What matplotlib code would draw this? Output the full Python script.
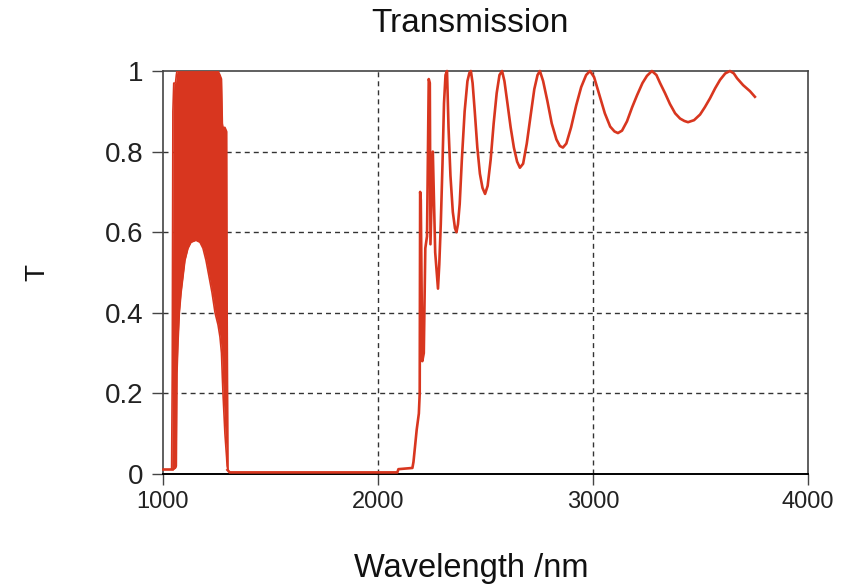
import numpy as np
import matplotlib
matplotlib.use("Agg")
import matplotlib.pyplot as plt

plt.rcParams['font.family'] = ['Liberation Sans', 'DejaVu Sans']

red = '#d8361f'

# flat floor before the first pass band
lead_wl = [1000, 1042]
lead_t  = [0.012, 0.012]

# dense fringe band (1040-1302 nm): upper and lower envelopes
band_wl = [1040, 1043, 1046, 1050, 1058, 1062, 1065, 1070, 1076, 1084,
           1093, 1102, 1116, 1130, 1153, 1172, 1186, 1200, 1214, 1228,
           1242, 1256, 1265, 1272, 1276, 1279, 1288, 1296, 1298, 1302]
band_hi = [0.012, 0.25, 0.90, 0.97, 0.97, 0.99, 1.0, 1.0, 1.0, 1.0,
           1.0, 1.0, 1.0, 1.0, 1.0, 1.0, 1.0, 1.0, 1.0, 1.0,
           1.0, 1.0, 0.99, 0.98, 0.87, 0.86, 0.86, 0.85, 0.44, 0.01]
band_lo = [0.012, 0.012, 0.012, 0.012, 0.015, 0.02, 0.25, 0.33, 0.40, 0.45,
           0.49, 0.53, 0.56, 0.575, 0.58, 0.575, 0.56, 0.53, 0.49, 0.45,
           0.40, 0.37, 0.34, 0.30, 0.24, 0.20, 0.10, 0.04, 0.02, 0.01]

# blocking region and second pass band with its fringes
trace_wl = [1300, 1310, 2090, 2095, 2160, 2165, 2172, 2180, 2190, 2194,
            2196, 2199, 2206, 2213, 2220, 2228, 2236, 2241, 2244, 2255,
            2266, 2279, 2285, 2292, 2300, 2307, 2314, 2321, 2328, 2337,
            2348, 2358, 2365, 2372, 2380, 2390, 2403, 2416, 2425, 2432,
            2440, 2450, 2462, 2474, 2486, 2498, 2510, 2524, 2538, 2552,
            2565, 2577, 2588, 2602, 2617, 2632, 2647, 2660, 2675, 2692,
            2710, 2727, 2742, 2753, 2768, 2788, 2808, 2830, 2846, 2860,
            2876, 2898, 2922, 2945, 2968, 2986, 3005, 3030, 3055, 3080,
            3100, 3116, 3135, 3158, 3182, 3205, 3230, 3251, 3274, 3295,
            3312, 3335, 3358, 3382, 3405, 3425, 3442, 3470, 3498, 3520,
            3544, 3568, 3591, 3615, 3637, 3655, 3670, 3698, 3730, 3753]
trace_t  = [0.01, 0.004, 0.004, 0.012, 0.015, 0.03, 0.067, 0.11, 0.15, 0.20,
            0.70, 0.68, 0.28, 0.30, 0.56, 0.59, 0.98, 0.97, 0.57, 0.80,
            0.55, 0.46, 0.52, 0.62, 0.77, 0.92, 0.99, 1.0, 0.86, 0.74,
            0.65, 0.61, 0.60, 0.62, 0.67, 0.78, 0.90, 0.975, 0.995, 1.0,
            0.97, 0.90, 0.81, 0.745, 0.71, 0.695, 0.715, 0.78, 0.87, 0.945,
            0.99, 1.0, 0.975, 0.92, 0.86, 0.81, 0.775, 0.76, 0.77, 0.82,
            0.89, 0.955, 0.99, 1.0, 0.975, 0.925, 0.87, 0.83, 0.814, 0.81,
            0.82, 0.86, 0.915, 0.96, 0.99, 1.0, 0.985, 0.94, 0.895, 0.862,
            0.85, 0.846, 0.852, 0.875, 0.91, 0.94, 0.97, 0.988, 1.0, 0.99,
            0.97, 0.945, 0.918, 0.895, 0.882, 0.876, 0.873, 0.878, 0.892, 0.91,
            0.932, 0.957, 0.978, 0.994, 1.0, 0.994, 0.982, 0.965, 0.95, 0.936]

xticks = [1000, 2000, 3000, 4000]
yticks = [0, 0.2, 0.4, 0.6, 0.8, 1]
yticklabels = ['0', '0.2', '0.4', '0.6', '0.8', '1']

fig = plt.figure(figsize=(8.45, 5.88), dpi=100)
ax = fig.add_axes([163/845, 1 - 474/588, 645/845, 403/588])

ax.fill_between(band_wl, band_lo, band_hi, color=red, lw=0, zorder=3)
ax.plot(band_wl, band_hi, color=red, lw=1.2, zorder=3)
ax.plot(band_wl, band_lo, color=red, lw=1.2, zorder=3)
ax.plot(lead_wl, lead_t, color=red, lw=1.9, zorder=3, clip_on=False)
ax.plot(trace_wl, trace_t, color=red, lw=1.9, zorder=3, clip_on=False,
        solid_joinstyle='round')

ax.set_xlim(1000, 4000)
ax.set_ylim(0, 1)
ax.set_xticks(xticks)
ax.set_yticks(yticks)
ax.set_yticklabels(yticklabels)

# dashed interior grid
for x in xticks[1:-1]:
    ax.axvline(x, color='#333333', lw=1.0, ls=(0, (3.6, 2.9)), zorder=1)
for y in yticks[1:-1]:
    ax.axhline(y, color='#333333', lw=1.0, ls=(0, (3.6, 2.9)), zorder=1)

for side in ['left', 'right', 'top']:
    ax.spines[side].set_color('#444444')
    ax.spines[side].set_linewidth(1.2)
ax.spines['bottom'].set_color('black')
ax.spines['bottom'].set_linewidth(1.4)

ax.tick_params(direction='out', length=8, width=1.0, color='#444444',
               labelcolor='#222222')
ax.tick_params(axis='x', labelsize=17, pad=4)
ax.tick_params(axis='y', labelsize=20, pad=6)

fig.text(470/845, 1 - 24/588, 'Transmission', fontsize=24,
         ha='center', va='center', color='#111111')
fig.text(471/845, 1 - 568/588, 'Wavelength /nm', fontsize=23.5,
         ha='center', va='center', color='#111111')
fig.text(37/845, 1 - 272/588, 'T', fontsize=20, rotation=90,
         ha='center', va='center', color='#111111')

fig.savefig('out.png', dpi=100)
